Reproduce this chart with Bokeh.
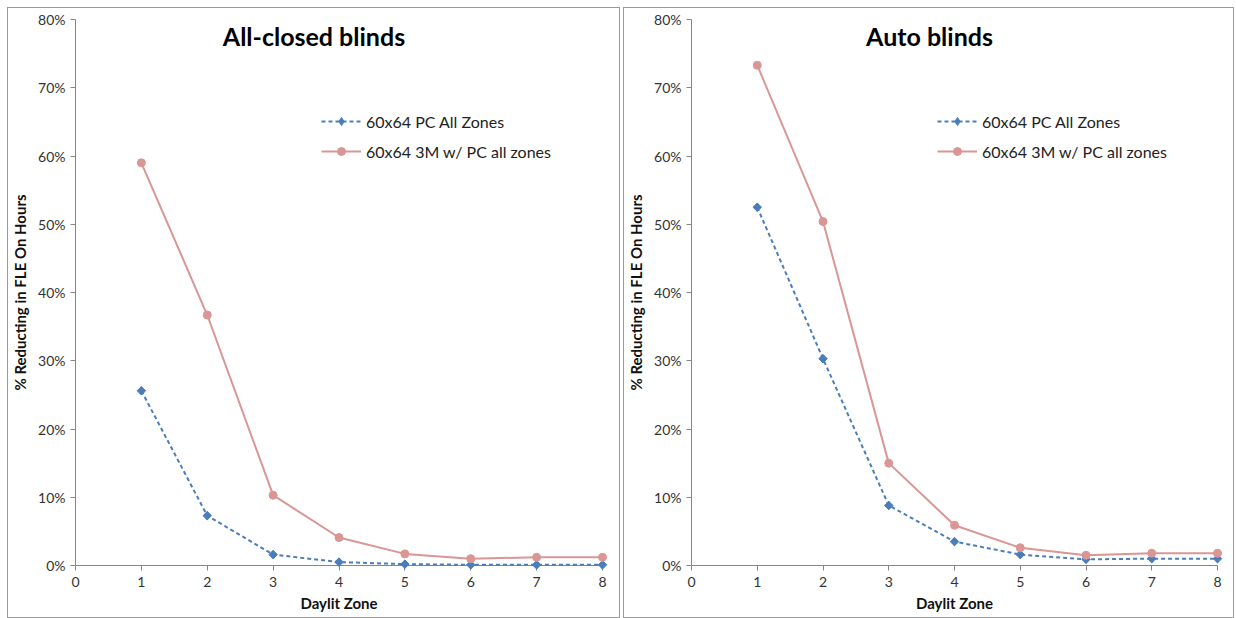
import math
from bokeh.plotting import figure
from bokeh.models import Range1d, Label, Legend, LegendItem, NumeralTickFormatter, FixedTicker
from bokeh.layouts import row
from bokeh.embed import file_html
from bokeh.resources import INLINE

zones = [1, 2, 3, 4, 5, 6, 7, 8]
x_ticks = [0, 1, 2, 3, 4, 5, 6, 7, 8]
y_ticks = [0, 0.1, 0.2, 0.3, 0.4, 0.5, 0.6, 0.7, 0.8]

closed_pc = [0.256, 0.073, 0.016, 0.005, 0.002, 0.001, 0.001, 0.001]
closed_3m = [0.590, 0.367, 0.103, 0.041, 0.017, 0.010, 0.012, 0.012]
auto_pc = [0.525, 0.303, 0.088, 0.035, 0.016, 0.009, 0.010, 0.010]
auto_3m = [0.733, 0.504, 0.150, 0.059, 0.026, 0.015, 0.018, 0.018]

series_names = ["60x64 PC All Zones", "60x64 3M w/ PC all zones"]
titles = ["All-closed blinds", "Auto blinds"]

BLUE = "#4A7EBB"
RED = "#D99694"
FONT = "Lato"
AXIS = "#868686"


def make_panel(title, pc, m3, width, left_border, right_border):
    p = figure(width=width, height=611, output_backend="svg", toolbar_location=None,
               x_range=Range1d(0, 8), y_range=Range1d(0, 0.8),
               min_border_left=left_border, min_border_right=right_border,
               min_border_top=11, min_border_bottom=54)
    p.outline_line_color = None
    p.grid.visible = False
    p.styles = {"border": "1px solid #9a9a9a", "box-sizing": "border-box"}

    for ax in (p.xaxis[0], p.yaxis[0]):
        ax.axis_line_color = AXIS
        ax.major_tick_line_color = AXIS
        ax.minor_tick_line_color = None
        ax.major_tick_in = 0
        ax.major_tick_out = 5
        ax.major_label_text_font = FONT
        ax.major_label_text_font_size = "14px"
        ax.major_label_text_color = "#333333"
        ax.axis_label_text_font = FONT
        ax.axis_label_text_font_style = "bold"
        ax.axis_label_text_font_size = "15px"
        ax.axis_label_text_color = "#111111"

    p.xaxis.ticker = FixedTicker(ticks=x_ticks)
    p.yaxis.ticker = FixedTicker(ticks=y_ticks)
    p.yaxis.formatter = NumeralTickFormatter(format="0%")
    p.xaxis.axis_label = "Daylit Zone"
    p.yaxis.axis_label = "% Reducting in FLE On Hours"
    p.xaxis.major_label_standoff = 6
    p.yaxis.major_label_standoff = 5
    p.xaxis.axis_label_standoff = 4
    p.yaxis.axis_label_standoff = 6

    l1 = p.line(zones, pc, line_color=BLUE, line_width=2, line_dash="4 3", level="overlay")
    d1 = p.scatter(zones, pc, marker="diamond", size=8, fill_color=BLUE, line_color=BLUE,
                   level="overlay")
    p.scatter(zones, pc, marker="square", size=6, angle=math.pi / 4,
              fill_color=BLUE, line_color=BLUE, level="overlay")
    l2 = p.line(zones, m3, line_color=RED, line_width=2, level="overlay")
    s2 = p.scatter(zones, m3, marker="circle", size=8, fill_color=RED, line_color=RED,
                   level="overlay")

    legend = Legend(items=[LegendItem(label=series_names[0], renderers=[l1, d1]),
                           LegendItem(label=series_names[1], renderers=[l2, s2])],
                    location=(246, 404), background_fill_alpha=0, border_line_color=None,
                    label_text_font=FONT, label_text_font_size="16px", label_text_color="#222222",
                    glyph_width=40, label_standoff=5, spacing=10, padding=6)
    p.add_layout(legend)

    p.add_layout(Label(x=3.62, y=0.776, text=title, text_align="center", text_baseline="middle",
                       text_font=FONT, text_font_style="bold", text_font_size="25px",
                       text_color="#000000"))
    return p


p1 = make_panel(titles[0], closed_pc, closed_3m, 613, 60, 19)
p2 = make_panel(titles[1], auto_pc, auto_3m, 611, 60, 18)
layout = row(p1, p2, spacing=3)
layout.margin = (7, 0, 0, 7)

open("out.html", "w").write(file_html(layout, INLINE))
